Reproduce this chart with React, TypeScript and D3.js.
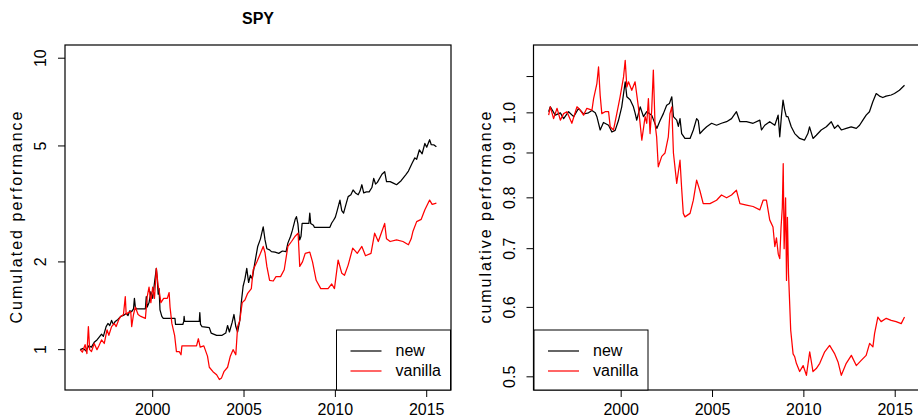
import React from 'react';
import * as d3 from 'd3';

const xTicks = [2000, 2005, 2010, 2015];
const leftYTicks = [1, 2, 5, 10];
const leftYLabels = ['1', '2', '5', '10'];
const rightYTicks = [0.5, 0.6, 0.7, 0.8, 0.9, 1.0, 1.1];
const rightYLabels = ['0.5', '0.6', '0.7', '0.8', '0.9', '1.0', ''];
const seriesNames = ['new', 'vanilla'];
const seriesColors = ['#000000', '#ff0000'];

const spyNew: [number, number][] = [
  [1996.03, 1.0], [1996.2, 1.01], [1996.35, 0.99], [1996.5, 1.03], [1996.65, 1.02], [1996.8, 1.06],
  [1996.95, 1.08], [1997.05, 1.1], [1997.2, 1.13], [1997.3, 1.11], [1997.45, 1.2], [1997.55, 1.23],
  [1997.65, 1.21], [1997.75, 1.26], [1997.85, 1.22], [1997.95, 1.25], [1998.1, 1.27], [1998.25, 1.3],
  [1998.4, 1.31], [1998.55, 1.33], [1998.65, 1.31], [1998.75, 1.36], [1998.85, 1.35], [1998.95, 1.38],
  [1999.0, 1.5], [1999.05, 1.4], [1999.1, 1.38], [1999.6, 1.38], [1999.65, 1.52], [1999.7, 1.4],
  [1999.8, 1.45], [1999.9, 1.58], [2000.0, 1.5], [2000.1, 1.7], [2000.2, 1.9], [2000.25, 1.75],
  [2000.3, 1.55], [2000.35, 1.62], [2000.4, 1.37], [2000.5, 1.3], [2000.58, 1.28], [2001.22, 1.28],
  [2001.25, 1.22], [2001.65, 1.22], [2001.7, 1.25], [2001.72, 1.3], [2001.75, 1.25], [2002.55, 1.25],
  [2002.58, 1.34], [2002.62, 1.22], [2002.7, 1.2], [2003.1, 1.19], [2003.2, 1.14], [2003.5, 1.12],
  [2003.8, 1.12], [2004.0, 1.14], [2004.1, 1.21], [2004.2, 1.15], [2004.35, 1.24], [2004.45, 1.32],
  [2004.55, 1.2], [2004.65, 1.15], [2004.77, 1.26], [2004.85, 1.45], [2004.95, 1.65], [2005.05, 1.75],
  [2005.15, 1.9], [2005.25, 1.7], [2005.35, 1.8], [2005.45, 1.75], [2005.6, 2.0], [2005.75, 2.26],
  [2005.9, 2.4], [2006.05, 2.64], [2006.15, 2.38], [2006.25, 2.22], [2006.4, 2.2], [2006.5, 2.17],
  [2006.7, 2.16], [2006.9, 2.14], [2007.1, 2.18], [2007.3, 2.17], [2007.4, 2.32], [2007.55, 2.45],
  [2007.65, 2.57], [2007.8, 2.8], [2007.87, 2.86], [2007.95, 2.7], [2008.0, 2.5], [2008.05, 2.38],
  [2008.12, 2.45], [2008.18, 2.71], [2008.3, 2.71], [2008.55, 2.71], [2008.6, 2.94], [2008.65, 2.71],
  [2008.8, 2.67], [2008.85, 2.63], [2009.7, 2.63], [2009.8, 2.72], [2009.9, 2.78], [2010.0, 2.85],
  [2010.1, 3.0], [2010.25, 3.26], [2010.35, 3.0], [2010.45, 2.94], [2010.55, 3.1], [2010.7, 3.35],
  [2010.85, 3.4], [2010.97, 3.53], [2011.1, 3.45], [2011.25, 3.4], [2011.35, 3.5], [2011.45, 3.68],
  [2011.55, 3.45], [2011.7, 3.48], [2011.85, 3.48], [2012.0, 3.6], [2012.1, 3.87], [2012.2, 3.7],
  [2012.3, 3.75], [2012.55, 4.0], [2012.7, 4.08], [2012.8, 3.77], [2013.0, 3.77], [2013.2, 3.72],
  [2013.35, 3.68], [2013.6, 3.8], [2013.85, 3.98], [2014.0, 4.1], [2014.2, 4.36], [2014.35, 4.55],
  [2014.45, 4.5], [2014.6, 4.85], [2014.75, 4.7], [2014.9, 5.1], [2015.0, 4.95], [2015.16, 5.25],
  [2015.25, 5.05], [2015.4, 5.04], [2015.53, 4.97],
];

const spyVanilla: [number, number][] = [
  [1996.03, 1.0], [1996.15, 0.98], [1996.3, 1.04], [1996.4, 0.97], [1996.48, 1.2], [1996.55, 1.0],
  [1996.65, 0.985], [1996.8, 1.05], [1996.95, 1.0], [1997.05, 1.03], [1997.2, 1.08], [1997.35, 1.05],
  [1997.5, 1.17], [1997.6, 1.12], [1997.75, 1.2], [1997.9, 1.23], [1998.0, 1.2], [1998.15, 1.27],
  [1998.25, 1.3], [1998.4, 1.32], [1998.5, 1.52], [1998.55, 1.32], [1998.65, 1.34], [1998.8, 1.35],
  [1998.85, 1.2], [1998.95, 1.32], [1999.05, 1.4], [1999.2, 1.32], [1999.35, 1.3], [1999.6, 1.28],
  [1999.7, 1.52], [1999.8, 1.64], [1999.9, 1.45], [2000.0, 1.64], [2000.1, 1.5], [2000.2, 1.9],
  [2000.3, 1.65], [2000.35, 1.6], [2000.45, 1.45], [2000.6, 1.5], [2000.8, 1.5], [2000.9, 1.57],
  [2000.95, 1.4], [2001.05, 1.23], [2001.2, 1.12], [2001.3, 0.985], [2001.45, 0.985], [2001.55, 0.96],
  [2001.6, 1.03], [2002.4, 1.03], [2002.5, 1.09], [2002.6, 1.02], [2002.8, 1.03], [2003.0, 0.95],
  [2003.1, 0.87], [2003.3, 0.84], [2003.5, 0.82], [2003.65, 0.79], [2003.77, 0.8], [2003.9, 0.84],
  [2004.1, 0.87], [2004.25, 0.95], [2004.4, 1.0], [2004.55, 0.96], [2004.65, 1.2], [2004.77, 1.26],
  [2004.9, 1.45], [2005.05, 1.48], [2005.2, 1.56], [2005.4, 1.62], [2005.5, 1.88], [2005.7, 2.0],
  [2005.9, 2.14], [2006.05, 2.26], [2006.15, 2.15], [2006.25, 1.93], [2006.4, 1.73], [2006.6, 1.72],
  [2006.75, 1.78], [2007.0, 1.78], [2007.2, 1.88], [2007.4, 2.26], [2007.6, 2.35], [2007.8, 2.45],
  [2007.96, 2.51], [2008.05, 1.93], [2008.2, 2.0], [2008.35, 2.14], [2008.6, 2.16], [2008.75, 2.0],
  [2008.95, 1.73], [2009.2, 1.62], [2009.6, 1.62], [2009.8, 1.68], [2009.95, 1.62], [2010.15, 2.03],
  [2010.35, 1.83], [2010.5, 1.8], [2010.7, 1.95], [2010.95, 2.23], [2011.2, 2.14], [2011.45, 2.26],
  [2011.65, 2.1], [2011.95, 2.14], [2012.15, 2.51], [2012.35, 2.35], [2012.7, 2.71], [2012.8, 2.4],
  [2013.0, 2.35], [2013.35, 2.38], [2013.7, 2.35], [2014.0, 2.29], [2014.15, 2.4], [2014.25, 2.55],
  [2014.45, 2.75], [2014.7, 2.8], [2014.9, 3.02], [2015.16, 3.26], [2015.3, 3.15], [2015.53, 3.18],
];

const relNew: [number, number][] = [
  [1996.03, 1.003], [1996.12, 1.016], [1996.39, 0.994], [1996.67, 1.0], [1996.85, 0.985], [1997.12, 1.003],
  [1997.4, 0.99], [1997.67, 1.012], [1997.94, 0.997], [1998.21, 1.0], [1998.4, 1.006], [1998.58, 1.0],
  [1998.67, 0.99], [1998.85, 0.956], [1999.03, 0.975], [1999.31, 0.968], [1999.49, 0.951], [1999.67, 0.955],
  [1999.85, 0.98], [2000.03, 1.016], [2000.22, 1.085], [2000.31, 1.043], [2000.49, 1.035], [2000.67, 1.016],
  [2000.76, 1.0], [2000.85, 0.981], [2001.04, 1.016], [2001.22, 0.99], [2001.4, 1.003], [2001.67, 0.994],
  [2001.95, 0.96], [2002.13, 0.98], [2002.31, 0.998], [2002.49, 1.02], [2002.64, 1.025], [2002.77, 1.043],
  [2002.86, 0.99], [2003.04, 0.981], [2003.13, 0.965], [2003.22, 0.985], [2003.31, 0.947], [2003.49, 0.935],
  [2003.77, 0.935], [2003.95, 0.956], [2004.13, 0.985], [2004.22, 0.98], [2004.31, 0.947], [2004.49, 0.956],
  [2004.68, 0.964], [2004.95, 0.973], [2005.22, 0.968], [2005.49, 0.973], [2005.77, 0.977], [2006.04, 0.985],
  [2006.31, 1.003], [2006.5, 0.977], [2006.86, 0.977], [2007.22, 0.973], [2007.59, 0.981], [2007.68, 0.956],
  [2007.86, 0.968], [2008.13, 0.977], [2008.41, 0.968], [2008.59, 0.994], [2008.68, 0.939], [2008.77, 0.99],
  [2008.86, 1.034], [2008.95, 1.008], [2009.04, 0.99], [2009.13, 0.99], [2009.31, 0.964], [2009.5, 0.947],
  [2009.77, 0.935], [2010.04, 0.931], [2010.22, 0.947], [2010.31, 0.964], [2010.5, 0.935], [2010.68, 0.943],
  [2010.95, 0.956], [2011.23, 0.964], [2011.5, 0.977], [2011.68, 0.96], [2011.86, 0.968], [2012.05, 0.956],
  [2012.32, 0.96], [2012.59, 0.964], [2012.87, 0.96], [2013.05, 0.968], [2013.23, 0.981], [2013.41, 0.994],
  [2013.59, 1.003], [2013.77, 1.029], [2013.96, 1.052], [2014.14, 1.045], [2014.32, 1.041], [2014.5, 1.045],
  [2014.78, 1.048], [2014.96, 1.052], [2015.23, 1.061], [2015.51, 1.075],
];

const relVanilla: [number, number][] = [
  [1996.03, 0.994], [1996.12, 1.016], [1996.3, 0.985], [1996.49, 1.012], [1996.67, 0.981], [1996.85, 0.998],
  [1997.03, 1.003], [1997.3, 0.973], [1997.58, 1.016], [1997.76, 1.007], [1997.94, 0.994], [1998.12, 1.012],
  [1998.4, 1.007], [1998.49, 1.038], [1998.67, 1.08], [1998.76, 1.128], [1998.85, 1.047], [1998.94, 0.998],
  [1999.12, 1.003], [1999.31, 1.003], [1999.4, 0.964], [1999.58, 0.956], [1999.76, 0.998], [1999.94, 1.043],
  [2000.13, 1.099], [2000.22, 1.148], [2000.31, 1.07], [2000.4, 1.085], [2000.58, 1.061], [2000.76, 1.085],
  [2000.94, 1.016], [2001.13, 0.931], [2001.31, 0.99], [2001.4, 0.973], [2001.49, 1.038], [2001.58, 0.947],
  [2001.67, 1.007], [2001.76, 1.119], [2001.85, 0.973], [2001.94, 0.939], [2002.03, 0.868], [2002.22, 0.892],
  [2002.4, 0.9], [2002.58, 0.939], [2002.67, 0.998], [2002.77, 1.016], [2002.86, 0.9], [2003.04, 0.831],
  [2003.22, 0.883], [2003.31, 0.82], [2003.4, 0.768], [2003.49, 0.761], [2003.77, 0.768], [2003.95, 0.795],
  [2004.13, 0.838], [2004.31, 0.815], [2004.49, 0.788], [2004.86, 0.788], [2005.22, 0.795], [2005.49, 0.806],
  [2005.77, 0.8], [2006.04, 0.806], [2006.31, 0.816], [2006.5, 0.788], [2006.86, 0.785], [2007.22, 0.782],
  [2007.59, 0.775], [2007.77, 0.795], [2007.95, 0.795], [2008.13, 0.755], [2008.31, 0.741], [2008.41, 0.704],
  [2008.5, 0.72], [2008.6, 0.69], [2008.68, 0.682], [2008.75, 0.74], [2008.82, 0.78], [2008.87, 0.875],
  [2008.92, 0.7], [2009.0, 0.8], [2009.05, 0.644], [2009.1, 0.76], [2009.16, 0.656], [2009.23, 0.601],
  [2009.28, 0.565], [2009.41, 0.531], [2009.5, 0.527], [2009.59, 0.518], [2009.77, 0.507], [2009.96, 0.515],
  [2010.14, 0.502], [2010.32, 0.534], [2010.5, 0.507], [2010.68, 0.511], [2010.87, 0.518], [2011.14, 0.534],
  [2011.41, 0.543], [2011.69, 0.531], [2011.87, 0.52], [2012.05, 0.502], [2012.32, 0.518], [2012.6, 0.529],
  [2012.87, 0.515], [2013.14, 0.522], [2013.41, 0.529], [2013.6, 0.546], [2013.78, 0.541], [2013.87, 0.56],
  [2014.05, 0.585], [2014.23, 0.578], [2014.51, 0.583], [2014.78, 0.58], [2015.05, 0.578], [2015.33, 0.575],
  [2015.51, 0.585],
];

const FONT = '"Liberation Sans", Arial, Helvetica, sans-serif';
const FS = 16;

type PanelProps = {
  id: string;
  left: number;
  right: number;
  top: number;
  bottom: number;
  yDomain: [number, number];
  yTicks: number[];
  yLabels: string[];
  yTitle: string;
  yTitleX: number;
  yLabelX: number;
  title?: string;
  series: [number, number][][];
};

function Panel(p: PanelProps) {
  const x = d3.scaleLinear().domain([1995.2, 2016.33]).range([p.left, p.right]);
  const y = d3.scaleLog().domain(p.yDomain).range([p.bottom, p.top]);
  const line = d3.line<[number, number]>().x(d => x(d[0])).y(d => y(d[1]));
  const cy = (p.top + p.bottom) / 2;
  const legL = p.left + 0.5 + (p.id === 'l' ? 271 : 0);
  const legW = 114;
  const legT = 330;
  return (
    <g>
      <defs>
        <clipPath id={'clip-' + p.id}>
          <rect x={p.left} y={p.top} width={p.right - p.left} height={p.bottom - p.top} />
        </clipPath>
      </defs>
      <g clipPath={`url(#clip-${p.id})`}>
        {p.series.map((s, i) => (
          <path key={i} d={line(s) || ''} fill="none" stroke={seriesColors[i]} strokeWidth={1.25} strokeLinejoin="round" />
        ))}
      </g>
      <rect x={p.left} y={p.top} width={p.right - p.left} height={p.bottom - p.top} fill="none" stroke="#000" strokeWidth={1.2} />
      {xTicks.map(t => (
        <g key={t}>
          <line x1={x(t)} x2={x(t)} y1={p.bottom} y2={p.bottom + 7} stroke="#000" strokeWidth={1} />
          <text x={x(t)} y={p.bottom + 25} textAnchor="middle" fontFamily={FONT} fontSize={FS}>{t}</text>
        </g>
      ))}
      {p.yTicks.map((t, i) => (
        <g key={t}>
          <line x1={p.left - 7} x2={p.left} y1={y(t)} y2={y(t)} stroke="#000" strokeWidth={1} />
          {p.yLabels[i] ? (
            <text transform={`translate(${p.yLabelX},${y(t)}) rotate(-90)`} textAnchor="middle" fontFamily={FONT} fontSize={FS}>{p.yLabels[i]}</text>
          ) : null}
        </g>
      ))}
      <text transform={`translate(${p.yTitleX},${cy}) rotate(-90)`} textAnchor="middle" fontFamily={FONT} fontSize={FS}
        textLength={212} lengthAdjust="spacing">{p.yTitle}</text>
      {p.title ? (
        <text x={(p.left + p.right) / 2} y={24} textAnchor="middle" fontFamily={FONT} fontSize={FS} fontWeight="bold">{p.title}</text>
      ) : null}
      <rect x={legL} y={legT} width={legW} height={p.bottom - legT} fill="#fff" stroke="#000" strokeWidth={1} />
      {seriesNames.map((n, i) => (
        <g key={n}>
          <line x1={legL + 14} x2={legL + 45} y1={351 + i * 20} y2={351 + i * 20} stroke={seriesColors[i]} strokeWidth={1.2} />
          <text x={legL + 59} y={356 + i * 20} fontFamily={FONT} fontSize={FS}>{n}</text>
        </g>
      ))}
    </g>
  );
}

export default function App() {
  return (
    <svg width={918} height={420} style={{ position: 'absolute', left: 0, top: 0, background: '#fff' }}>
      <rect x={0} y={0} width={918} height={420} fill="#fff" />
      <Panel id="l" left={65} right={451} top={45} bottom={390} yDomain={[0.727, 11.1]}
        yTicks={leftYTicks} yLabels={leftYLabels} yTitle="Cumulated performance" yTitleX={22} yLabelX={46}
        title="SPY" series={[spyNew, spyVanilla]} />
      <Panel id="r" left={533.5} right={919.5} top={45} bottom={390} yDomain={[0.483, 1.195]}
        yTicks={rightYTicks} yLabels={rightYLabels} yTitle="cumulative performance" yTitleX={491} yLabelX={515}
        series={[relNew, relVanilla]} />
    </svg>
  );
}
